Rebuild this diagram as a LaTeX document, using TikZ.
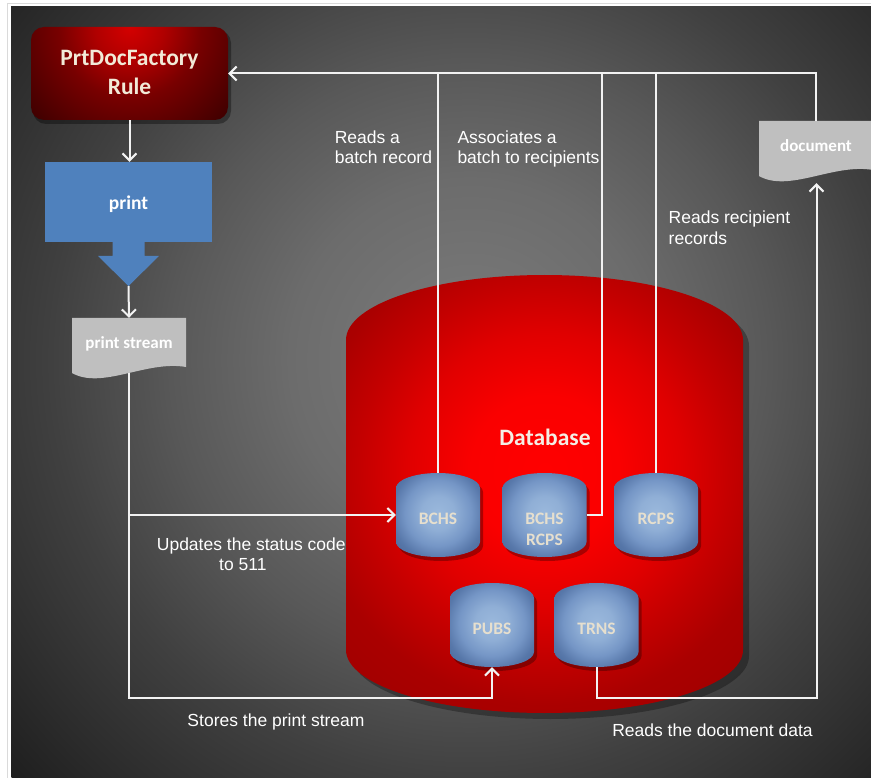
\documentclass[tikz,border=0pt]{standalone}
\usepackage{fontspec}
\setmainfont{Carlito}
\newfontfamily\arialf{Liberation Sans}
\usetikzlibrary{arrows.meta,calc}
\definecolor{bgA}{HTML}{7C7C7C}
\definecolor{bgB}{HTML}{6C6C6C}
\definecolor{bgC}{HTML}{585858}
\definecolor{bgD}{HTML}{404040}
\definecolor{bgE}{HTML}{2C2C2C}
\definecolor{bgF}{HTML}{181818}
\definecolor{bgG}{HTML}{0E0E0E}
\definecolor{rA}{HTML}{D40000}
\definecolor{rB}{HTML}{B00000}
\definecolor{rC}{HTML}{780000}
\definecolor{rD}{HTML}{440000}
\definecolor{rE}{HTML}{250000}
\definecolor{rF}{HTML}{100000}
\definecolor{dA}{HTML}{FF0000}
\definecolor{dB}{HTML}{FA0000}
\definecolor{dC}{HTML}{E00000}
\definecolor{dD}{HTML}{C40000}
\definecolor{dE}{HTML}{AA0000}
\definecolor{dF}{HTML}{A00000}
\definecolor{dG}{HTML}{900000}
\definecolor{cA}{HTML}{9AB8DC}
\definecolor{cB}{HTML}{90AFD6}
\definecolor{cC}{HTML}{7596C6}
\definecolor{cD}{HTML}{5878AA}
\definecolor{cE}{HTML}{4A6A9C}
\definecolor{cF}{HTML}{456394}
\definecolor{lineC}{HTML}{F2F2F2}
\definecolor{printblue}{HTML}{4F81BD}
\definecolor{docgray}{HTML}{BFBFBF}
\definecolor{ruletxt}{HTML}{F2EAD8}
\definecolor{dbtxt}{HTML}{F4EFE6}
\definecolor{cyltxt}{HTML}{E6DFCE}
\definecolor{framegray}{HTML}{DADADA}
\pgfdeclareradialshading{bgshade}{\pgfpoint{0bp}{0bp}}{color(0bp)=(bgA); color(7.26bp)=(bgB); color(12.1bp)=(bgC); color(16.9bp)=(bgD); color(21.8bp)=(bgE); color(26.6bp)=(bgF); color(30bp)=(bgG); color(50bp)=(bgG)}
\pgfdeclareradialshading{ruleshade}{\pgfpoint{0bp}{0bp}}{color(0bp)=(rA); color(6.08bp)=(rB); color(12.66bp)=(rC); color(22.7bp)=(rD); color(27.79bp)=(rE); color(35.36bp)=(rF); color(50bp)=(rF)}
\pgfdeclareradialshading{dbshade}{\pgfpoint{0bp}{0bp}}{color(0bp)=(dA); color(5.8bp)=(dB); color(10.7bp)=(dC); color(14.5bp)=(dD); color(18.4bp)=(dE); color(23.3bp)=(dF); color(31bp)=(dG); color(50bp)=(dG)}
\pgfdeclareradialshading{cylshade}{\pgfpoint{0bp}{0bp}}{color(0bp)=(cA); color(6.7bp)=(cB); color(13.3bp)=(cC); color(18.6bp)=(cD); color(23bp)=(cE); color(27.5bp)=(cF); color(50bp)=(cF)}
\newcommand\ltwo[2]{\vtop{\hbox{#1}\hbox{#2}}}
\newcommand\ctwo[2]{\vtop{\halign{\hfil##\hfil\cr #1\cr #2\cr}}}
\newcommand\bluecyl[2]{%
  \fill[black,opacity=0.3] (#1+3,#2+19) arc[start angle=180,end angle=0,x radius=42pt,y radius=15pt] -- (#1+87,#2+73) arc[start angle=0,end angle=-180,x radius=42pt,y radius=15pt] -- cycle;
  \begin{scope}
    \clip (#1,#2+15) arc[start angle=180,end angle=0,x radius=42pt,y radius=15pt] -- (#1+84,#2+69) arc[start angle=0,end angle=-180,x radius=42pt,y radius=15pt] -- cycle;
    \shade[shading=cylshade] (#1+42,#2+40) circle[radius=62pt];
  \end{scope}}
\tikzset{
  conn/.style={draw=lineC, line width=2pt, -{Straight Barb[length=7pt,width=14pt]}},
  wire/.style={draw=lineC, line width=2pt},
  note/.style={font=\arialf\fontsize{17.5}{20.5}\selectfont, text=white, inner sep=0pt},
  cyltext/.style={font=\bfseries\fontsize{17.5}{21}\selectfont, text=cyltxt, inner sep=0pt,
    minimum width=84pt, minimum height=84pt, text height=19.2pt, text depth=0pt},
  boxtext/.style={font=\bfseries, text=white, inner sep=0pt},
}
\begin{document}
\begin{tikzpicture}[x=1pt,y=-1pt]
\useasboundingbox (0,0) rectangle (871,778);
\fill[white] (0,0) rectangle (871,778);
\draw[framegray, line width=0.8pt] (871,3.5) -- (7.5,3.5) -- (7.5,778);
\begin{scope}
  \clip (11,7) rectangle (871,778);
  \shade[shading=bgshade] (470,360) circle[radius=620pt];
\end{scope}

% PrtDocFactory Rule
\fill[black,opacity=0.35,rounded corners=13pt] (33,30) rectangle (231,124);
\begin{scope}
  \clip[rounded corners=13pt] (31,27) rectangle (228,120);
  \shade[shading=ruleshade] (129.5,27) circle[radius=140pt];
\end{scope}
\node[font=\bfseries\fontsize{23.5}{29}\selectfont, text=ruletxt, inner sep=0pt,
  minimum width=197pt, minimum height=93pt, text height=0pt, text depth=15pt]
  (rule) at (129.5,73.5) {\ctwo{PrtDocFactory}{Rule}};

% print
\node[boxtext, fill=printblue, font=\bfseries\fontsize{19.5}{23}\selectfont,
  minimum width=167pt, minimum height=80pt, text height=14.6pt, text depth=0pt]
  (print) at (128.5,202) {print};
\coordinate (printtip) at (128.5,286);
\fill[printblue] (112.5,241.5) -- (144.5,241.5) -- (144.5,256) -- (159,256) -- (printtip) -- (98,256) -- (112.5,256) -- cycle;

% print stream
\fill[docgray] (72,318) -- (186,318) -- (186,367) .. controls (147,360) and (102,390) .. (72,373) -- cycle;
\node[boxtext, font=\bfseries\fontsize{17}{20}\selectfont, minimum width=114pt, minimum height=55pt,
  text height=6pt, text depth=0pt] (pstream) at (129,345.5) {print stream};

% document
\fill[docgray] (759,121) -- (873,121) -- (873,170) .. controls (834,163) and (789,193) .. (759,176) -- cycle;
\node[boxtext, font=\bfseries\fontsize{17}{20}\selectfont, minimum width=114pt, minimum height=57pt,
  text height=4pt, text depth=0pt] (doc) at (816,149.5) {document};

% Database
\fill[black,opacity=0.3] (352,346) arc[start angle=180,end angle=0,x radius=198.5pt,y radius=65pt] -- (749,656) arc[start angle=0,end angle=-180,x radius=198.5pt,y radius=63pt] -- cycle;
\begin{scope}
  \clip (346,340) arc[start angle=180,end angle=0,x radius=198.5pt,y radius=65pt] -- (743,650) arc[start angle=0,end angle=-180,x radius=198.5pt,y radius=63pt] -- cycle;
  \shade[shading=dbshade] (545,470) circle[radius=320pt];
\end{scope}
\node[font=\bfseries\fontsize{23.5}{28}\selectfont, text=dbtxt, inner sep=0pt, anchor=base] (db) at (545,445) {Database};

% small cylinders
\bluecyl{396}{473}
\bluecyl{502.5}{473}
\bluecyl{614}{473}
\bluecyl{450}{583}
\bluecyl{554.5}{583}
\node[cyltext] (bchs) at (438,515) {BCHS};
\node[cyltext] (bchsrcps) at (544.5,515) {\ctwo{BCHS}{RCPS}};
\node[cyltext] (rcps) at (656,515) {RCPS};
\node[cyltext] (pubs) at (492,625) {PUBS};
\node[cyltext] (trns) at (596.5,625) {TRNS};

% connectors
\coordinate (lowL) at (129,697.5);
\coordinate (lowR) at (816.5,697.5);
\coordinate (jog) at (601.5,515);
\draw[conn] (rule.south) -- (rule.south |- print.north);
\draw[conn] (printtip) -- (pstream.north);
\draw[conn] (pstream.south) -- (lowL) -| (pubs.south);
\draw[conn] (pstream.south |- bchs.west) -- (bchs.west);
\draw[conn, shorten >=5pt] (trns.south) |- (lowR) -- (lowR |- doc.south);
\draw[conn] (doc.north) |- (rule.east);
\draw[wire] (bchs.north) -- (bchs.north |- rule.east);
\draw[wire] (bchsrcps.east) -- (jog) -- (jog |- rule.east);
\draw[wire] (rcps.north) -- (rcps.north |- rule.east);

% notes
\node[note, anchor=base west] (n1) at (334.6,143.3) {\ltwo{Reads a}{batch record}};
\node[note, anchor=base west] (n2) at (457.3,143.3) {\ltwo{Associates a}{batch to recipients}};
\node[note, anchor=base west] (n3) at (668.5,224) {\ltwo{Reads recipient}{records}};
\node[note, anchor=base west] (n4) at (156.7,550) {\ltwo{Updates the status code}{\hspace{62.3pt}to 511}};
\node[note, anchor=base] (n5) at (276,726.7) {Stores the print stream};
\node[note, anchor=base] (n6) at (712.5,736.7) {Reads the document data};
\end{tikzpicture}
\end{document}
